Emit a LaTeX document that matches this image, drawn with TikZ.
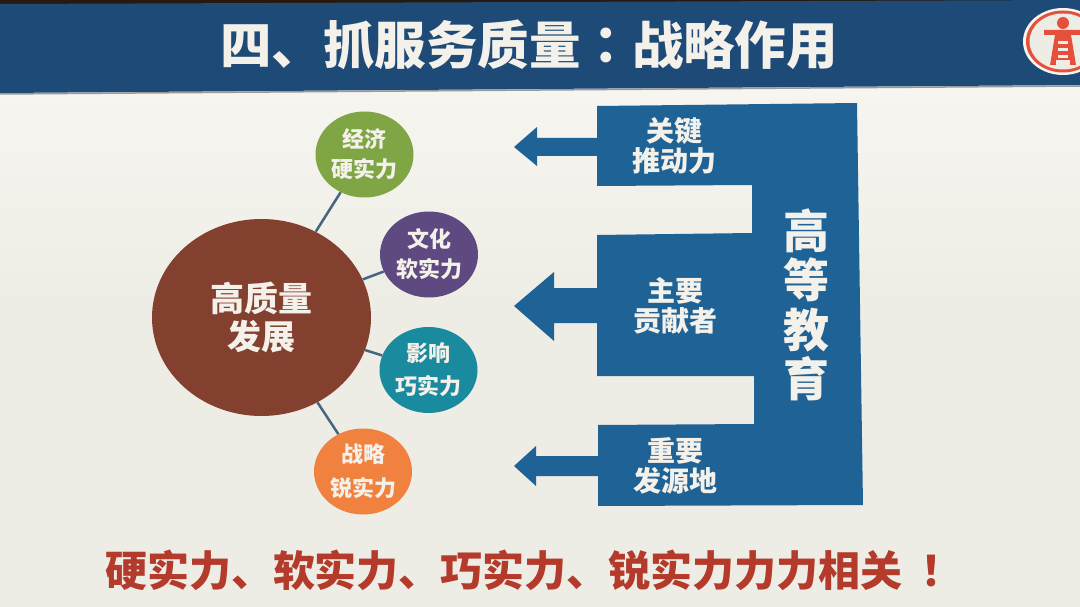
\documentclass[tikz,border=0pt]{standalone}
\usepackage{fontspec}
\setmainfont{Noto Sans CJK SC}
\newfontfamily\tcfont{Noto Sans CJK TC}
\usetikzlibrary{shapes.geometric}
\definecolor{slidebg}{HTML}{EEEDE5}
\definecolor{slidetop}{HTML}{F6F5F0}
\definecolor{headblue}{HTML}{1E4A78}
\definecolor{blockblue}{HTML}{1F6296}
\definecolor{ballbrown}{HTML}{83402F}
\definecolor{ballgreen}{HTML}{7FA545}
\definecolor{ballpurple}{HTML}{5E4A80}
\definecolor{ballteal}{HTML}{1A8A9E}
\definecolor{ballorange}{HTML}{F0813F}
\definecolor{textwhite}{HTML}{F3F1EA}
\definecolor{sloganred}{HTML}{B43A2B}
\definecolor{logored}{HTML}{E5503C}
\definecolor{linkblue}{HTML}{46657F}
\tikzset{
  ball/.style={ellipse, inner sep=0pt, minimum width=98pt, minimum height=86pt,
    align=center, text=textwhite, font=\fontsize{22}{30}\selectfont\bfseries},
  link/.style={draw=linkblue, line width=2.5pt},
  blocktext/.style={align=center, text=textwhite, font=\fontsize{28}{30}\selectfont\bfseries},
}
\begin{document}
\begin{tikzpicture}[x=1pt, y=-1pt]
\useasboundingbox (0,0) rectangle (1080,607);
\shade[top color=slidetop, bottom color=slidebg] (0,85) rectangle (1080,300);
\fill[slidebg] (0,300) rectangle (1080,607);
% header band
\fill[black!80!brown] (0,0) rectangle (1080,4);
\draw[black!40, line width=1.5pt] (0,94) -- (1080,86);
\fill[headblue] (0,4) -- (1080,0) -- (1080,85) -- (0,93) -- cycle;
\node[text=textwhite, font=\fontsize{51.5}{56}\selectfont\bfseries] (title) at (529,45) {四、抓服务质量{\tcfont ：}战略作用};
% logo
\fill[slidetop] (1063,41.5) ellipse (40 and 33.5);
\fill[logored] (1063,41.5) ellipse (37 and 31);
\fill[slidebg] (1063,41.5) ellipse (33.5 and 28);
\fill[logored] (1063,23) circle (6);
\fill[logored] (1044,30) -- (1080,30) -- (1080,35) -- (1071,35) -- (1076,65) -- (1050,65) -- (1055,35) -- (1044,35) -- cycle;
\foreach \rungy in {41,48,55} \fill[slidebg] (1058,\rungy) rectangle (1068,\rungy+3.5);
\fill[slidebg] (1056,60) rectangle (1070,65);
% balls
\node[ellipse, fill=ballbrown, minimum width=219pt, minimum height=197pt, inner sep=0pt,
      align=center, text=textwhite, font=\fontsize{34}{38}\selectfont\bfseries]
      (quality) at (261.5,317.5) {高质量\\发展};
\node[ball, fill=ballgreen] (hard) at (364.5,154.5) {\raisebox{-1pt}{经济}\\\raisebox{-1pt}{硬实力}};
\node[ball, fill=ballpurple] (soft) at (429,254.5) {文化\\软实力};
\node[ball, fill=ballteal] (smart) at (428.5,370) {影响\\[3pt]巧实力};
\node[ball, fill=ballorange] (sharp) at (363,471.5) {战略\\[4pt]锐实力};
\draw[link] (quality) -- (hard);
\draw[link] (quality) -- (soft);
\draw[link] (quality) -- (smart);
\draw[link] (quality) -- (sharp);
% block with its three arms
\fill[blockblue] (597,106) -- (857,103) -- (863,505) -- (598,506) -- (598,425) -- (754,424)
  -- (754,376) -- (597,376) -- (597,235) -- (752,233) -- (752,185) -- (597,186) -- cycle;
\fill[blockblue] (598,138) -- (537,138) -- (537,127) -- (514,147) -- (537,166) -- (537,156) -- (598,156) -- cycle;
\fill[blockblue] (598,288) -- (554,288) -- (554,272) -- (514,306) -- (554,341) -- (554,323) -- (598,323) -- cycle;
\fill[blockblue] (599,456) -- (536,456) -- (536,446) -- (514,466) -- (536,486) -- (536,476) -- (599,476) -- cycle;
\node[blocktext] (key) at (674,146) {关键\\推动力};
\node[blocktext] (main) at (675,306) {主要\\贡献者};
\node[blocktext] (source) at (675,466) {重要\\发源地};
\node[align=center, text=textwhite, font=\fontsize{46}{49.5}\selectfont\bfseries] (higher) at (806.5,305) {高\\等\\教\\育};
% slogan
\node[text=sloganred, font=\fontsize{42}{46}\selectfont\bfseries] (slogan) at (529,570) {硬实力、软实力、巧实力、锐实力力力相关\hspace{8pt}{\tcfont ！}};
\end{tikzpicture}
\end{document}
